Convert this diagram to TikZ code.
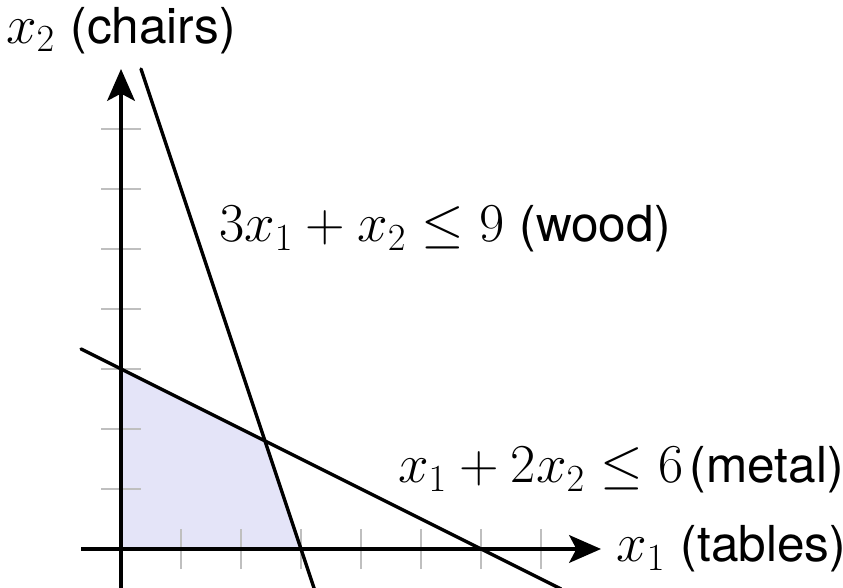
\RequirePackage{fix-cm}
\documentclass[tikz,border=0pt]{standalone}
\usepackage{fontspec}
\setmainfont{TeX Gyre Heros}
\usetikzlibrary{arrows.meta,positioning}
\definecolor{feasblue}{RGB}{228,228,248}
\newcommand{\lbltext}[1]{{\fontsize{23.5}{28}\selectfont #1}}
\tikzset{
  axis/.style={-{Stealth[length=5.3mm, width=4.6mm, inset=1.2mm]}, line width=1.8pt},
  constraint/.style={line width=1.6pt, line cap=round},
  ticklines/.style={black!25, line width=0.7pt},
  feasible/.style={fill=feasblue},
  lbl/.style={font=\fontsize{26}{31}\selectfont, inner sep=0pt}
}
\begin{document}
\begin{tikzpicture}
  \useasboundingbox (-2.017,-0.65) rectangle (12.033,9.15);
  % feasible region
  \fill[feasible] (0,0) -- (3,0) -- (2.4,1.8) -- (0,3) -- cycle;
  \foreach \i in {1,...,7} {
    \draw[ticklines] (\i,-1/3) -- (\i,1/3);
    \draw[ticklines] (-1/3,\i) -- (1/3,\i);
  }
  \coordinate (xs) at (-2/3,0); \coordinate (xe) at (8,0);
  \coordinate (ys) at (0,-2/3); \coordinate (ye) at (0,8);
  \draw[axis] (xs) -- (xe);
  \draw[axis] (ys) -- (ye);
  \node[lbl, right=2.5mm of xe] (xlab) {$x_1$ \lbltext{(tables)}};
  \node[lbl, above=2.5mm of ye] (ylab) {$x_2$ \lbltext{(chairs)}};
  % constraints
  \coordinate (w1) at (1/3,8); \coordinate (w2) at (29/9,-2/3);
  \coordinate (m1) at (-2/3,10/3); \coordinate (m2) at (22/3,-2/3);
  \draw[constraint] (w1) -- (w2);
  \draw[constraint] (m1) -- (m2);
  \node[lbl, anchor=base west] (wood) at (1.63,5.12) {$3x_1+x_2\leq 9$\hspace{7pt}\lbltext{(wood)}};
  \node[lbl, anchor=base west] (metal) at (4.61,1.1) {$x_1+2x_2\leq 6$\hspace{3pt}\lbltext{(metal)}};
\end{tikzpicture}
\end{document}
